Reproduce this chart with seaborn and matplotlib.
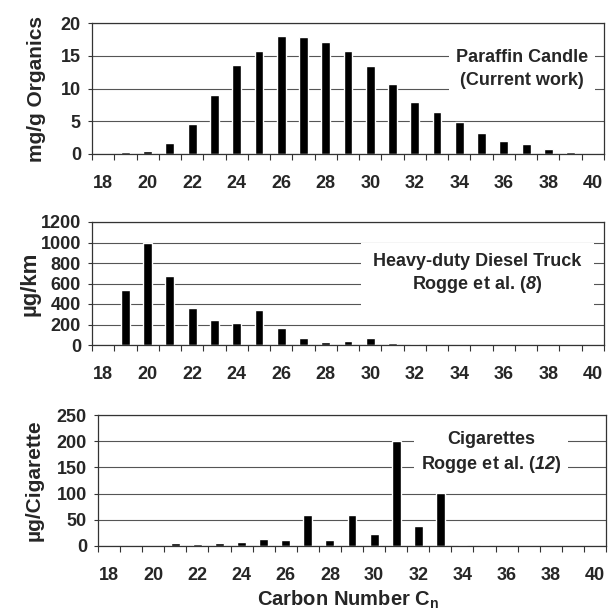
import numpy as np
import matplotlib
matplotlib.use('Agg')
import matplotlib.pyplot as plt
import seaborn as sns

# carbon numbers on the x axis
carbon = list(range(18, 41))

# n-alkane emissions
candle = [0.05, 0.25, 0.45, 1.7, 4.55, 8.95, 13.6, 15.65, 18.05, 17.9, 17.05, 15.8,
          13.4, 10.75, 7.95, 6.4, 4.9, 3.25, 2.05, 1.5, 0.7, 0.25, 0.0]
diesel = [0, 535, 1000, 678, 365, 245, 218, 339, 163, 72, 33, 39,
          65, 20, 6, 0, 0, 0, 0, 0, 0, 0, 0]
cigarette = [0, 0, 0, 5.7, 4.5, 5.7, 7, 12.7, 10.8, 58.5, 10.8, 58.5,
             22.9, 200, 37.5, 100.5, 2, 2, 0, 0, 0, 0, 0]

ylabels = ['mg/g Organics', 'µg/km', 'µg/Cigarette']
ymax = [20, 1200, 250]
ystep = [5, 200, 50]
# \mathsf is mapped to bold italic below (\mathit keeps digits upright)
notes = ['Paraffin Candle\n(Current work)',
         'Heavy-duty Diesel Truck\nRogge et al. ($\\mathsf{8}$)',
         'Cigarettes\nRogge et al. ($\\mathsf{12}$)']

sns.set_theme(style='white')
plt.rcParams['font.family'] = ['Liberation Sans', 'DejaVu Sans']
plt.rcParams['font.weight'] = 'bold'
plt.rcParams['mathtext.fontset'] = 'custom'
plt.rcParams['mathtext.rm'] = 'Liberation Sans:bold'
plt.rcParams['mathtext.sf'] = 'Liberation Sans:bold:italic'

W, H = 608, 612
fig = plt.figure(figsize=(W / 100, H / 100), dpi=100)

# axes boxes in pixels: left, right, top, bottom
boxes = [(92, 604, 23, 154), (92, 604, 222, 345), (98, 606, 415, 546)]
label_x = [46, 41, 44]
label_fs = [15, 16, 15]
note_pos = [(36.8, 13.0), (34.8, 690), (35.3, 178)]
note_ls = [1.45, 1.25, 1.4]
note_pad = [5, 9, 5]

axes = []
for i, vals in enumerate([candle, diesel, cigarette]):
    l, r, t, b = boxes[i]
    ax = fig.add_axes([l / W, 1 - b / H, (r - l) / W, (b - t) / H])
    sns.barplot(x=carbon, y=vals, native_scale=True, color='black', saturation=1,
                width=0.4, errorbar=None, ax=ax, zorder=2)
    ax.set_xlim(17.5, 40.5)
    ax.set_ylim(0, ymax[i])
    ax.set_yticks(np.arange(0, ymax[i] + 1, ystep[i]))
    ax.set_xticks(range(18, 41, 2))
    ax.set_xticks(np.arange(17.5, 41, 1), minor=True)
    ax.tick_params(axis='x', which='major', bottom=False, length=0, pad=15, labelsize=13)
    ax.tick_params(axis='x', which='minor', bottom=True, length=4, width=0.8, color='#333')
    ax.tick_params(axis='y', left=True, length=3, width=0.8, pad=5, labelsize=13, color='#333')
    ax.yaxis.grid(True, color='#555', lw=0.8)
    ax.set_axisbelow(True)
    for s in ax.spines.values():
        s.set_color('#333')
        s.set_linewidth(0.9)
    ax.set_ylabel(ylabels[i], fontsize=label_fs[i], fontweight='bold')
    ax.yaxis.set_label_coords(label_x[i] / W, 1 - (t + b) / 2 / H, transform=fig.transFigure)
    ax.text(note_pos[i][0], note_pos[i][1], notes[i], ha='center', va='center',
            fontsize=13, fontweight='bold', linespacing=note_ls[i], zorder=3,
            bbox=dict(facecolor='white', edgecolor='none', pad=note_pad[i]))
    axes.append(ax)

axes[2].set_xlabel(r'Carbon Number C$_\mathrm{n}$', fontsize=14.5, fontweight='bold')
axes[2].xaxis.set_label_coords(348 / W, 1 - 589 / H, transform=fig.transFigure)

fig.savefig('out.png', dpi=100)
